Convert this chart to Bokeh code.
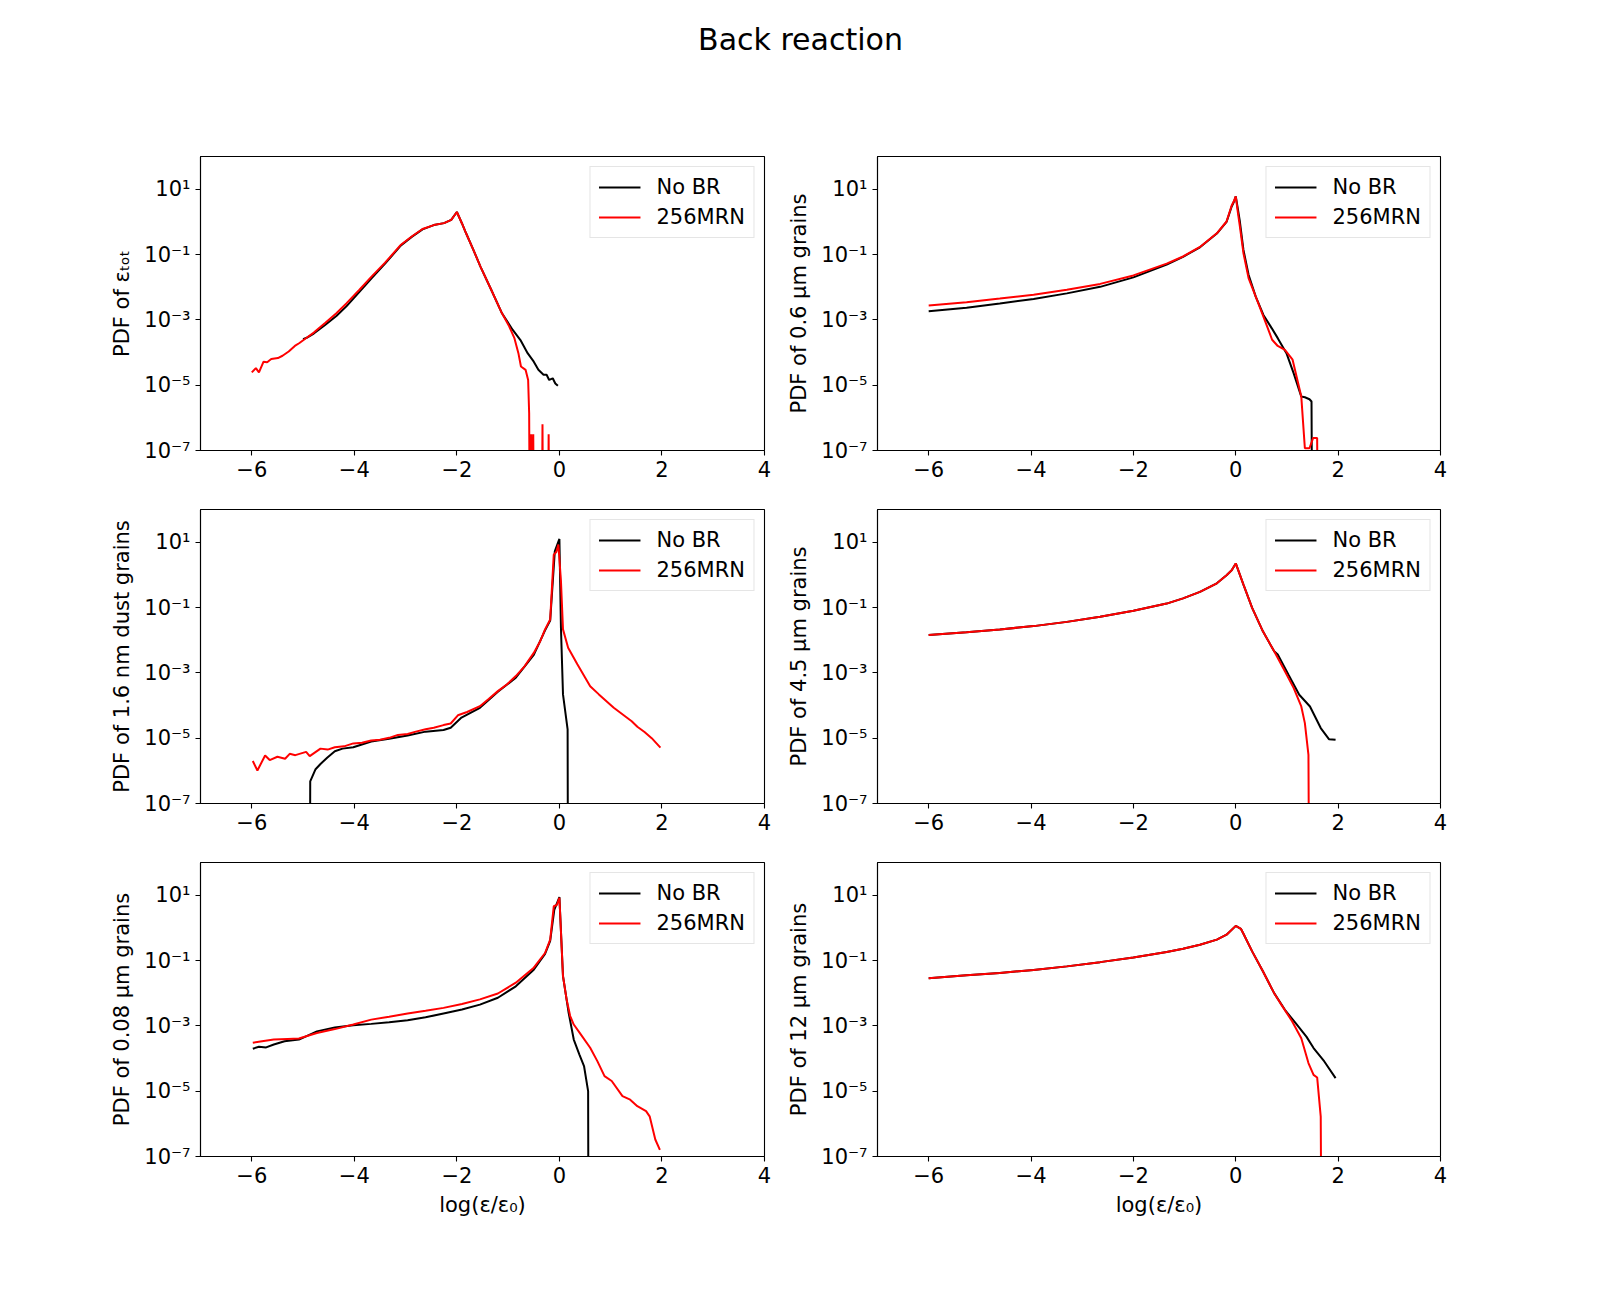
from bokeh.plotting import figure
from bokeh.layouts import column, row
from bokeh.models import Range1d, FixedTicker, CustomJSTickFormatter
from bokeh.core.properties import value
from bokeh.embed import file_html
from bokeh.resources import INLINE

FONT = "DejaVu Sans"
Z = None  # PDF equal to zero (falls below the log axis)

TITLE = "Back reaction"
XLABEL = "log(ε/ε₀)"
LABEL_NOBR = "No BR"
LABEL_MRN = "256MRN"
X_TICKS = [-6, -4, -2, 0, 2, 4]
Y_TICKS = [1e-7, 1e-5, 1e-3, 1e-1, 1e1]

# ---------- panel 1 : total ----------
tot_ylabel = "PDF of εₜₒₜ"
tot_nobr_x = [-5.00, -4.93, -4.79, -4.57, -4.35, -4.15, -3.90, -3.66, -3.40, -3.09, -2.88, -2.67,
              -2.45, -2.25, -2.11, -2.00, -1.90, -1.82, -1.68, -1.54, -1.33, -1.12, -0.91, -0.76,
              -0.62, -0.50, -0.41, -0.35, -0.31, -0.25, -0.20, -0.13, -0.08, -0.03]
tot_nobr_logy = [-3.59, -3.55, -3.42, -3.16, -2.88, -2.58, -2.14, -1.72, -1.28, -0.72, -0.46, -0.23,
                 -0.10, -0.04, 0.06, 0.30, -0.05, -0.35, -0.85, -1.37, -2.08, -2.80, -3.31, -3.62,
                 -4.02, -4.28, -4.53, -4.62, -4.68, -4.68, -4.84, -4.79, -4.95, -5.02]
tot_mrn_x = [-6.00, -5.92, -5.86, -5.77, -5.70, -5.62, -5.49, -5.40, -5.28, -5.16, -5.07, -4.93,
             -4.79, -4.57, -4.35, -4.15, -3.90, -3.66, -3.40, -3.09, -2.88, -2.67, -2.45, -2.25,
             -2.11, -2.00, -1.90, -1.82, -1.68, -1.54, -1.33, -1.12, -0.98, -0.88, -0.80, -0.75,
             -0.66, -0.61, -0.59, -0.57, -0.55, -0.53, -0.51, -0.49, -0.35, -0.33, -0.31, -0.23,
             -0.21, -0.19]
tot_mrn_logy = [-4.61, -4.48, -4.61, -4.28, -4.30, -4.20, -4.17, -4.10, -3.97, -3.80, -3.71, -3.55,
                -3.39, -3.10, -2.80, -2.49, -2.08, -1.67, -1.25, -0.70, -0.45, -0.22, -0.10, -0.04,
                0.06, 0.30, -0.05, -0.35, -0.85, -1.37, -2.08, -2.80, -3.20, -3.55, -4.02, -4.43,
                -4.53, -4.84, -5.86, Z, -6.50, Z, -6.50, Z, Z, -6.20, Z, Z,
                -6.50, Z]

# ---------- panel 2 : 0.6 um ----------
g06_ylabel = "PDF of 0.6 μm grains"
g06_nobr_x = [-6.00, -5.26, -4.61, -3.95, -3.30, -2.65, -2.00, -1.35, -1.03, -0.70, -0.37, -0.18,
              -0.08, -0.04, 0.00, 0.04, 0.08, 0.15, 0.25, 0.39, 0.54, 0.68, 0.82, 0.99,
              1.13, 1.28, 1.35, 1.44, 1.48, 1.50]
g06_nobr_logy = [-2.74, -2.63, -2.50, -2.36, -2.19, -1.99, -1.70, -1.31, -1.07, -0.78, -0.36, 0.00,
                 0.47, 0.60, 0.78, 0.40, 0.01, -0.86, -1.62, -2.29, -2.85, -3.20, -3.56, -4.02,
                 -4.63, -5.35, -5.37, -5.43, -5.50, Z]
g06_mrn_x = [-6.00, -5.26, -4.61, -3.95, -3.30, -2.65, -2.00, -1.35, -1.03, -0.70, -0.37, -0.18,
             -0.08, -0.04, 0.00, 0.04, 0.08, 0.15, 0.25, 0.39, 0.54, 0.71, 0.82, 0.96,
             1.11, 1.28, 1.35, 1.44, 1.51, 1.59, 1.61]
g06_mrn_logy = [-2.56, -2.46, -2.35, -2.23, -2.08, -1.90, -1.64, -1.28, -1.06, -0.77, -0.35, 0.01,
                0.50, 0.62, 0.78, 0.30, -0.14, -0.96, -1.72, -2.29, -2.90, -3.61, -3.80, -3.92,
                -4.22, -5.35, -6.93, -6.93, -6.62, -6.62, Z]

# ---------- panel 3 : 1.6 nm ----------
g16_ylabel = "PDF of 1.6 nm dust grains"
g16_nobr_x = [-4.87, -4.86, -4.76, -4.66, -4.53, -4.38, -4.23, -4.02, -3.67, -3.32, -2.96, -2.61,
              -2.26, -2.12, -1.91, -1.55, -1.20, -0.85, -0.50, -0.28, -0.18, -0.09, 0.00, 0.03,
              0.07, 0.16, 0.17]
g16_nobr_logy = [Z, -6.32, -5.96, -5.79, -5.60, -5.40, -5.32, -5.28, -5.10, -5.02, -4.92, -4.80,
                 -4.75, -4.68, -4.37, -4.07, -3.58, -3.15, -2.45, -1.70, -1.40, 0.72, 1.10, -1.62,
                 -3.66, -4.73, Z]
g16_mrn_x = [-5.98, -5.89, -5.74, -5.65, -5.50, -5.35, -5.26, -5.15, -4.94, -4.87, -4.66, -4.52,
             -4.38, -4.20, -4.02, -3.85, -3.67, -3.50, -3.32, -3.15, -2.96, -2.80, -2.61, -2.45,
             -2.26, -2.12, -1.98, -1.80, -1.55, -1.38, -1.20, -1.02, -0.85, -0.68, -0.50, -0.38,
             -0.28, -0.18, -0.11, -0.06, -0.02, 0.03, 0.07, 0.17, 0.35, 0.60, 0.77, 1.06, 1.41,
             1.52, 1.66, 1.80, 1.97]
g16_mrn_logy = [-5.70, -5.99, -5.53, -5.67, -5.57, -5.63, -5.48, -5.52, -5.42, -5.55, -5.32, -5.35,
                -5.28, -5.25, -5.16, -5.14, -5.07, -5.05, -4.99, -4.90, -4.87, -4.80, -4.73, -4.68,
                -4.60, -4.55, -4.30, -4.20, -4.02, -3.80, -3.56, -3.35, -3.10, -2.80, -2.39, -2.05,
                -1.67, -1.37, 0.62, 0.70, 0.93, -0.19, -1.67, -2.23, -2.74, -3.41, -3.66, -4.07, -4.48,
                -4.65, -4.81, -5.00, -5.29]

# ---------- panel 4 : 4.5 um ----------
g45_ylabel = "PDF of 4.5 μm grains"
g45_common_x = [-6.00, -5.26, -4.61, -3.95, -3.30, -2.65, -2.00, -1.35, -1.03, -0.70, -0.37, -0.18,
                -0.08, 0.00, 0.15, 0.32, 0.53, 0.75]
g45_common_logy = [-1.84, -1.76, -1.67, -1.57, -1.44, -1.28, -1.10, -0.88, -0.72, -0.52, -0.26, -0.01,
                   0.14, 0.35, -0.30, -1.01, -1.73, -2.34]
g45_nobr_tail_x = [0.82, 1.03, 1.24, 1.45, 1.66, 1.82, 1.95]
g45_nobr_tail_logy = [-2.44, -3.06, -3.67, -4.03, -4.69, -5.03, -5.05]
g45_mrn_tail_x = [0.96, 1.13, 1.28, 1.35, 1.42, 1.44]
g45_mrn_tail_logy = [-2.95, -3.46, -4.03, -4.54, -5.51, Z]

# ---------- panel 5 : 0.08 um ----------
g008_ylabel = "PDF of 0.08 μm grains"
g008_nobr_x = [-5.98, -5.86, -5.72, -5.57, -5.36, -5.08, -4.73, -4.38, -4.02, -3.67, -3.32, -2.96,
               -2.61, -2.26, -1.90, -1.55, -1.20, -0.85, -0.50, -0.28, -0.18, -0.10, 0.00, 0.07,
               0.18, 0.28, 0.39, 0.48, 0.56, 0.57]
g008_nobr_logy = [-3.70, -3.64, -3.66, -3.57, -3.47, -3.42, -3.17, -3.05, -2.98, -2.94, -2.89, -2.83,
                  -2.74, -2.62, -2.50, -2.35, -2.14, -1.79, -1.28, -0.80, -0.40, 0.55, 0.94, -1.48,
                  -2.60, -3.42, -3.88, -4.23, -5.00, Z]
g008_mrn_x = [-5.98, -5.80, -5.57, -5.30, -5.08, -4.73, -4.38, -4.02, -3.67, -3.32, -2.96, -2.61,
              -2.26, -1.90, -1.55, -1.20, -0.85, -0.50, -0.28, -0.18, -0.11, -0.05, 0.00, 0.07,
              0.14, 0.21, 0.28, 0.42, 0.60, 0.74, 0.88, 1.02, 1.23, 1.38, 1.52, 1.69, 1.76, 1.87,
              1.96]
g008_mrn_logy = [-3.52, -3.47, -3.42, -3.40, -3.39, -3.22, -3.10, -2.96, -2.81, -2.72, -2.62, -2.54,
                 -2.45, -2.33, -2.19, -2.01, -1.68, -1.22, -0.77, -0.36, 0.66, 0.70, 0.92, -1.48,
                 -2.19, -2.70, -2.96, -3.27, -3.67, -4.08, -4.54, -4.69, -5.15, -5.26, -5.46, -5.61,
                 -5.77, -6.48, -6.80]

# ---------- panel 6 : 12 um ----------
g12_ylabel = "PDF of 12 μm grains"
g12_common_x = [-6.00, -5.26, -4.61, -3.95, -3.30, -2.65, -2.00, -1.35, -1.03, -0.70, -0.37, -0.18,
                0.00, 0.10, 0.15, 0.32, 0.53, 0.75]
g12_common_logy = [-1.54, -1.45, -1.38, -1.29, -1.18, -1.05, -0.91, -0.74, -0.64, -0.52, -0.36, -0.21,
                   0.06, -0.03, -0.18, -0.72, -1.33, -2.00]
g12_nobr_tail_x = [0.96, 1.17, 1.38, 1.52, 1.73, 1.95]
g12_nobr_tail_logy = [-2.51, -2.92, -3.33, -3.68, -4.09, -4.60]
g12_mrn_tail_x = [0.89, 1.10, 1.28, 1.42, 1.52, 1.59, 1.66, 1.68]
g12_mrn_tail_logy = [-2.35, -2.86, -3.38, -4.14, -4.50, -4.58, -5.78, Z]


def to_pdf(logs):
    return [1e-12 if v is None else 10 ** v for v in logs]


Y_FMT_CODE = """
const sup = {"-": "\u207b", "0": "\u2070", "1": "\u00b9", "2": "\u00b2", "3": "\u00b3",
             "4": "\u2074", "5": "\u2075", "6": "\u2076", "7": "\u2077", "8": "\u2078", "9": "\u2079"};
const e = Math.round(Math.log10(tick));
return "10" + String(e).split("").map(c => sup[c]).join("");
"""
X_FMT_CODE = """
return (tick < 0 ? "\u2212" : "") + Math.abs(tick).toString();
"""


def make_panel(left_col, bottom_row, ylabel, nx, ny, mx, my):
    p = figure(frame_width=564 if left_col else 563, frame_height=294,
               x_range=Range1d(-7, 4), y_range=Range1d(1e-7, 1e2), y_axis_type="log",
               toolbar_location=None, output_backend="svg",
               min_border_left=200 if left_col else 105,
               min_border_right=8 if left_col else 16,
               min_border_top=15, min_border_bottom=80 if bottom_row else 44)
    p.grid.visible = False
    p.outline_line_color = "black"
    p.outline_line_width = 1.1
    p.outline_line_alpha = 1.0
    p.background_fill_color = "white"
    p.border_fill_color = "white"

    p.line(nx, to_pdf(ny), color="black", line_width=2, legend_label=LABEL_NOBR)
    p.line(mx, to_pdf(my), color="red", line_width=2, legend_label=LABEL_MRN)

    p.xaxis.ticker = FixedTicker(ticks=X_TICKS, minor_ticks=[])
    p.yaxis.ticker = FixedTicker(ticks=Y_TICKS, minor_ticks=[])
    p.xaxis.formatter = CustomJSTickFormatter(code=X_FMT_CODE)
    p.yaxis.formatter = CustomJSTickFormatter(code=Y_FMT_CODE)
    for ax in (p.xaxis[0], p.yaxis[0]):
        ax.axis_line_color = "black"
        ax.axis_line_width = 1.1
        ax.major_tick_out = 5
        ax.major_tick_in = 0
        ax.major_tick_line_width = 1.1
        ax.major_tick_line_color = "black"
        ax.minor_tick_line_color = None
        ax.major_label_text_font = FONT
        ax.major_label_text_font_size = "21px"
        ax.major_label_text_color = "black"
        ax.major_label_standoff = 5
        ax.axis_label_text_font = FONT
        ax.axis_label_text_font_size = "21px"
        ax.axis_label_text_font_style = "normal"
        ax.axis_label_text_color = "black"
        ax.axis_label_standoff = 7
    p.yaxis.axis_label = ylabel
    if bottom_row:
        p.xaxis.axis_label = XLABEL

    lg = p.legend[0]
    lg.location = "top_right"
    lg.margin = 10
    lg.padding = 8
    lg.spacing = 6
    lg.label_text_font = FONT
    lg.label_text_font_size = "21px"
    lg.label_text_color = "black"
    lg.label_standoff = 16
    lg.glyph_width = 42
    lg.glyph_height = 22
    lg.label_height = 22
    lg.border_line_color = "#cccccc"
    lg.border_line_width = 1
    lg.background_fill_alpha = 0.8
    return p


p1 = make_panel(True, False, tot_ylabel, tot_nobr_x, tot_nobr_logy, tot_mrn_x, tot_mrn_logy)
p2 = make_panel(False, False, g06_ylabel, g06_nobr_x, g06_nobr_logy, g06_mrn_x, g06_mrn_logy)
p3 = make_panel(True, False, g16_ylabel, g16_nobr_x, g16_nobr_logy, g16_mrn_x, g16_mrn_logy)
p4 = make_panel(False, False, g45_ylabel,
                g45_common_x + g45_nobr_tail_x, g45_common_logy + g45_nobr_tail_logy,
                g45_common_x + g45_mrn_tail_x, g45_common_logy + g45_mrn_tail_logy)
p5 = make_panel(True, True, g008_ylabel, g008_nobr_x, g008_nobr_logy, g008_mrn_x, g008_mrn_logy)
p6 = make_panel(False, True, g12_ylabel,
                g12_common_x + g12_nobr_tail_x, g12_common_logy + g12_nobr_tail_logy,
                g12_common_x + g12_mrn_tail_x, g12_common_logy + g12_mrn_tail_logy)

HEADER_W, HEADER_H = 1456, 141
header = figure(width=HEADER_W, height=HEADER_H, x_range=Range1d(0, HEADER_W),
                y_range=Range1d(0, HEADER_H), toolbar_location=None, output_backend="svg",
                x_axis_location=None, y_axis_location=None, min_border=0)
header.grid.visible = False
header.outline_line_color = None
header.text(x=[800], y=[102], text=[TITLE], text_align="center", text_baseline="middle",
            text_font=value(FONT), text_font_size=value("30px"), text_color="black")

layout = column(header, row(p1, p2), row(p3, p4), row(p5, p6))

open("out.html", "w").write(file_html(layout, INLINE))
